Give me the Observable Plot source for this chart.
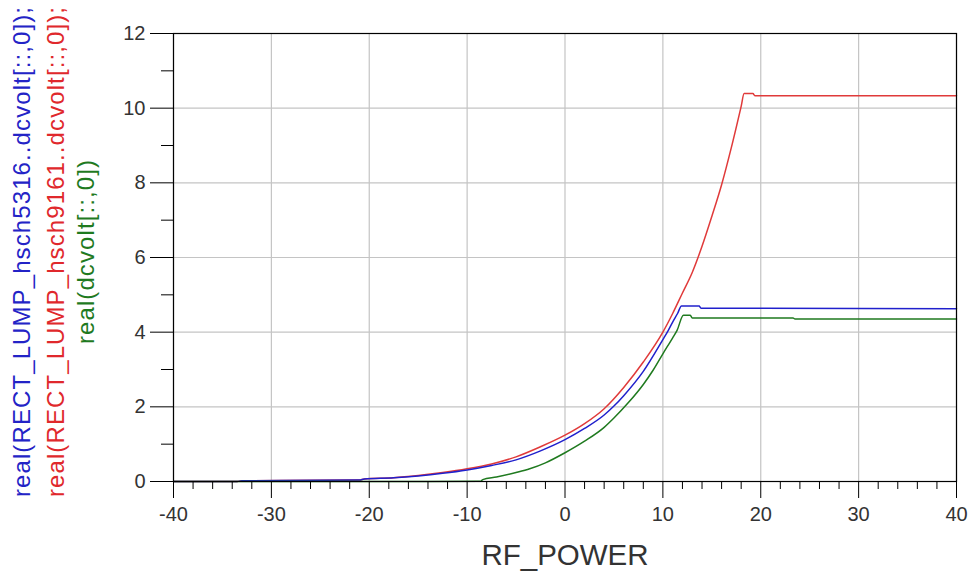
<!DOCTYPE html>
<html><head><meta charset="utf-8">
<script src="https://cdn.jsdelivr.net/npm/d3@7"></script>
<script src="https://cdn.jsdelivr.net/npm/@observablehq/plot@0.6"></script>
<style>body{margin:0;background:#fff;} #chart svg{display:block;}</style>
</head><body><div id="chart"></div>
<script>
// RF power sweep (x) and DC output voltage (y) for each rectifier
const redPower  = [-40, -33.5, -33, -21, -20.5, -17.5, -15, -12.5, -10, -7.5, -5, -2.5, 0, 2, 4, 6, 8, 10, 11, 12, 13, 14, 15, 16, 17, 18, 18.3, 19.2, 19.4, 40];
const redVolt   = [0, 0, 0.02, 0.04, 0.07, 0.1, 0.16, 0.24, 0.34, 0.47, 0.66, 0.93, 1.24, 1.55, 1.95, 2.52, 3.2, 4.0, 4.5, 5.05, 5.6, 6.3, 7.1, 7.95, 8.95, 10.05, 10.39, 10.39, 10.33, 10.33];

const bluePower = [-40, -33.5, -33, -21, -20.5, -17.5, -15, -12.5, -10, -7.5, -5, -2.5, 0, 2, 4, 5, 6, 8, 10, 10.5, 11, 11.5, 11.9, 13.7, 13.9, 40];
const blueVolt  = [0, 0, 0.02, 0.04, 0.07, 0.1, 0.15, 0.22, 0.31, 0.43, 0.58, 0.82, 1.12, 1.42, 1.78, 2.02, 2.3, 2.95, 3.8, 4.02, 4.27, 4.5, 4.70, 4.70, 4.64, 4.63];

const greenPower = [-40, -13.7, -8.6, -8.4, -7, -5, -3.6, -2, 0, 2, 4, 5, 6.5, 8, 9, 10, 11, 11.45, 12.1, 12.8, 13, 23.3, 23.5, 40];
const greenVolt  = [0, 0, 0.01, 0.05, 0.12, 0.24, 0.34, 0.5, 0.77, 1.08, 1.45, 1.7, 2.12, 2.6, 2.98, 3.42, 3.85, 4.05, 4.45, 4.45, 4.38, 4.38, 4.35, 4.35];

const xMajor = [-40, -30, -20, -10, 0, 10, 20, 30, 40];
const xMinor = [-38, -36, -34, -32, -28, -26, -24, -22, -18, -16, -14, -12, -8, -6, -4, -2, 2, 4, 6, 8, 12, 14, 16, 18, 22, 24, 26, 28, 32, 34, 36, 38];
const yMajor = [0, 2, 4, 6, 8, 10, 12];
const yMinor = [1, 3, 5, 7, 9, 11];

const yLabels = [
  {text: "real(RECT_LUMP_hsch5316..dcvolt[::,0]);", color: "#2323c6", dx: -151},
  {text: "real(RECT_LUMP_hsch9161..dcvolt[::,0]);", color: "#e0282c", dx: -117},
  {text: "real(dcvolt[::,0])", color: "#1f7a1f", dx: -87}
];
const xTitle = "RF_POWER";

const toRows = (xs, ys) => xs.map((x, i) => ({x, y: ys[i]}));
const red = toRows(redPower, redVolt);
const blue = toRows(bluePower, blueVolt);
const green = toRows(greenPower, greenVolt);

const chart = Plot.plot({
  width: 968, height: 577,
  marginLeft: 173, marginRight: 12, marginTop: 33, marginBottom: 96,
  x: {domain: [-40, 40], label: null},
  y: {domain: [0, 12], label: null},
  style: {fontFamily: "'Liberation Sans', Arial, sans-serif", background: "#fff", color: "#000"},
  marks: [
    Plot.gridX(xMajor, {stroke: "#c4c4c4", strokeOpacity: 1, strokeWidth: 1.2}),
    Plot.gridY(yMajor, {stroke: "#c4c4c4", strokeOpacity: 1, strokeWidth: 1.2}),
    Plot.line(red, {x: "x", y: "y", stroke: "#e03a3a", strokeWidth: 1.5, curve: "monotone-x"}),
    Plot.line(blue, {x: "x", y: "y", stroke: "#2020cc", strokeWidth: 1.5, curve: "monotone-x"}),
    Plot.line(green, {x: "x", y: "y", stroke: "#1f7a1f", strokeWidth: 1.5, curve: "monotone-x"}),
    Plot.frame({stroke: "#000", strokeWidth: 1.2}),
    Plot.axisX(xMajor, {tickSize: 17, tickPadding: 8, fontSize: 20, stroke: "#000", fill: "#333", label: null, tickFormat: d => String(d)}),
    Plot.axisX(xMinor, {tickSize: 8, text: null, stroke: "#000", label: null}),
    Plot.axisY(yMajor, {tickSize: 23, tickPadding: 5, fontSize: 20, stroke: "#000", fill: "#333", label: null, tickFormat: d => String(d)}),
    Plot.axisY(yMinor, {tickSize: 12, text: null, stroke: "#000", label: null}),
    Plot.text([xTitle], {text: d => d, frameAnchor: "bottom", dy: 83, fontSize: 29.5, fill: "#333"}),
    ...yLabels.map(l => Plot.text([l], {text: "text", frameAnchor: "left", textAnchor: "middle", dx: l.dx, dy: -6, rotate: -90, fontSize: 24, fill: l.color}))
  ]
});
d3.select(chart).selectAll("text")
  .filter(function() { return this.textContent.startsWith("real("); })
  .style("letter-spacing", "1.1px");
document.getElementById("chart").appendChild(chart);
</script>
</body></html>
